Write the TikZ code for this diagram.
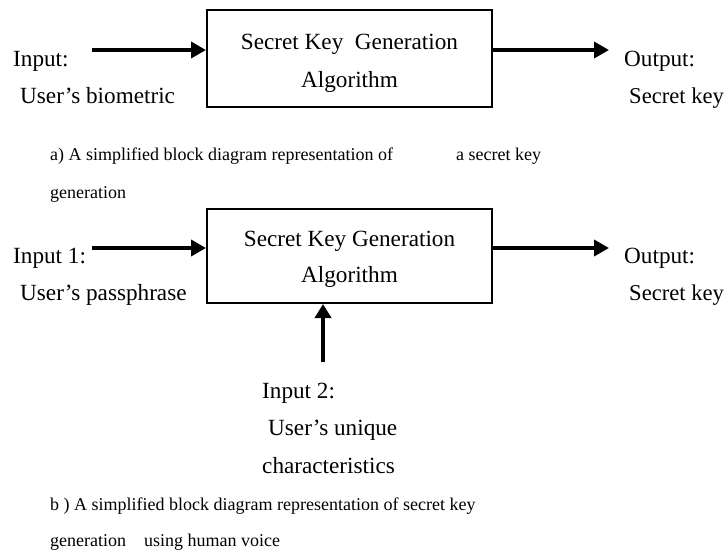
\documentclass[tikz,border=0pt]{standalone}
\usepackage{fontspec}
\setmainfont{Liberation Serif}
\usetikzlibrary{arrows.meta}
\begin{document}
\begin{tikzpicture}[x=1pt,y=-1pt,
  big/.style={font=\fontsize{23.2}{28}\selectfont, inner sep=0pt, anchor=base west},
  small/.style={font=\fontsize{18}{22}\selectfont, inner sep=0pt, anchor=base west},
  blockbox/.style={draw, line width=2pt, minimum width=285pt, inner sep=0pt, align=center},
  arr/.style={line width=3.5pt, -{Triangle[length=15pt,width=16pt]}}]
\useasboundingbox (0,0) rectangle (728,554);

% ---------- a) ----------
\node[blockbox, minimum height=97pt, font=\fontsize{23.2}{38}\selectfont] (b1) at (349.5,58.5)
  {\rule{0pt}{26pt}Secret Key\ \ Generation\\Algorithm\rule[-5pt]{0pt}{5pt}};
\coordinate (i1) at (92,50);
\coordinate (o1) at (609,50);
\draw[arr] (i1) -- (i1 -| b1.west);
\draw[arr] (b1.east |- o1) -- (o1);
\node[big] (in1) at (13,66) {Input:};
\node[big] (in1b) at (20,103.3) {User's biometric};
\node[big] (out1) at (624,66) {Output:};
\node[big, font=\fontsize{22.6}{28}\selectfont] (out1b) at (629,103.3) {Secret key};
\node[small] (capa1) at (50,160.7) {a) A simplified block diagram representation of\hspace{63pt}a secret key};
\node[small] (capa2) at (50,198) {generation};

% ---------- b) ----------
\node[blockbox, minimum height=94pt, font=\fontsize{23.2}{35.5}\selectfont] (b2) at (349.5,256)
  {\rule{0pt}{21.5pt}Secret Key Generation\\Algorithm\rule[-5pt]{0pt}{5pt}};
\coordinate (i2) at (92,248);
\coordinate (o2) at (609,248);
\coordinate (i3) at (323,362);
\draw[arr] (i2) -- (i2 -| b2.west);
\draw[arr] (b2.east |- o2) -- (o2);
\draw[line width=3.5pt, -{Triangle[length=14pt,width=16pt]}] (i3) -- (i3 |- b2.south);
\node[big] (in2) at (13,263.3) {Input 1:};
\node[big] (in2b) at (20,300) {User's passphrase};
\node[big] (out2) at (624,263.3) {Output:};
\node[big, font=\fontsize{22.6}{28}\selectfont] (out2b) at (629,300.5) {Secret key};
\node[big] (in3) at (262,398.3) {Input 2:};
\node[big] (in3b) at (268,435) {User's unique};
\node[big] (in3c) at (262,473.3) {characteristics};
\node[small] (capb1) at (50,510) {b ) A simplified block diagram representation of secret key};
\node[small] (capb2) at (50,546.7) {generation\hspace{18pt}using human voice};
\end{tikzpicture}
\end{document}
